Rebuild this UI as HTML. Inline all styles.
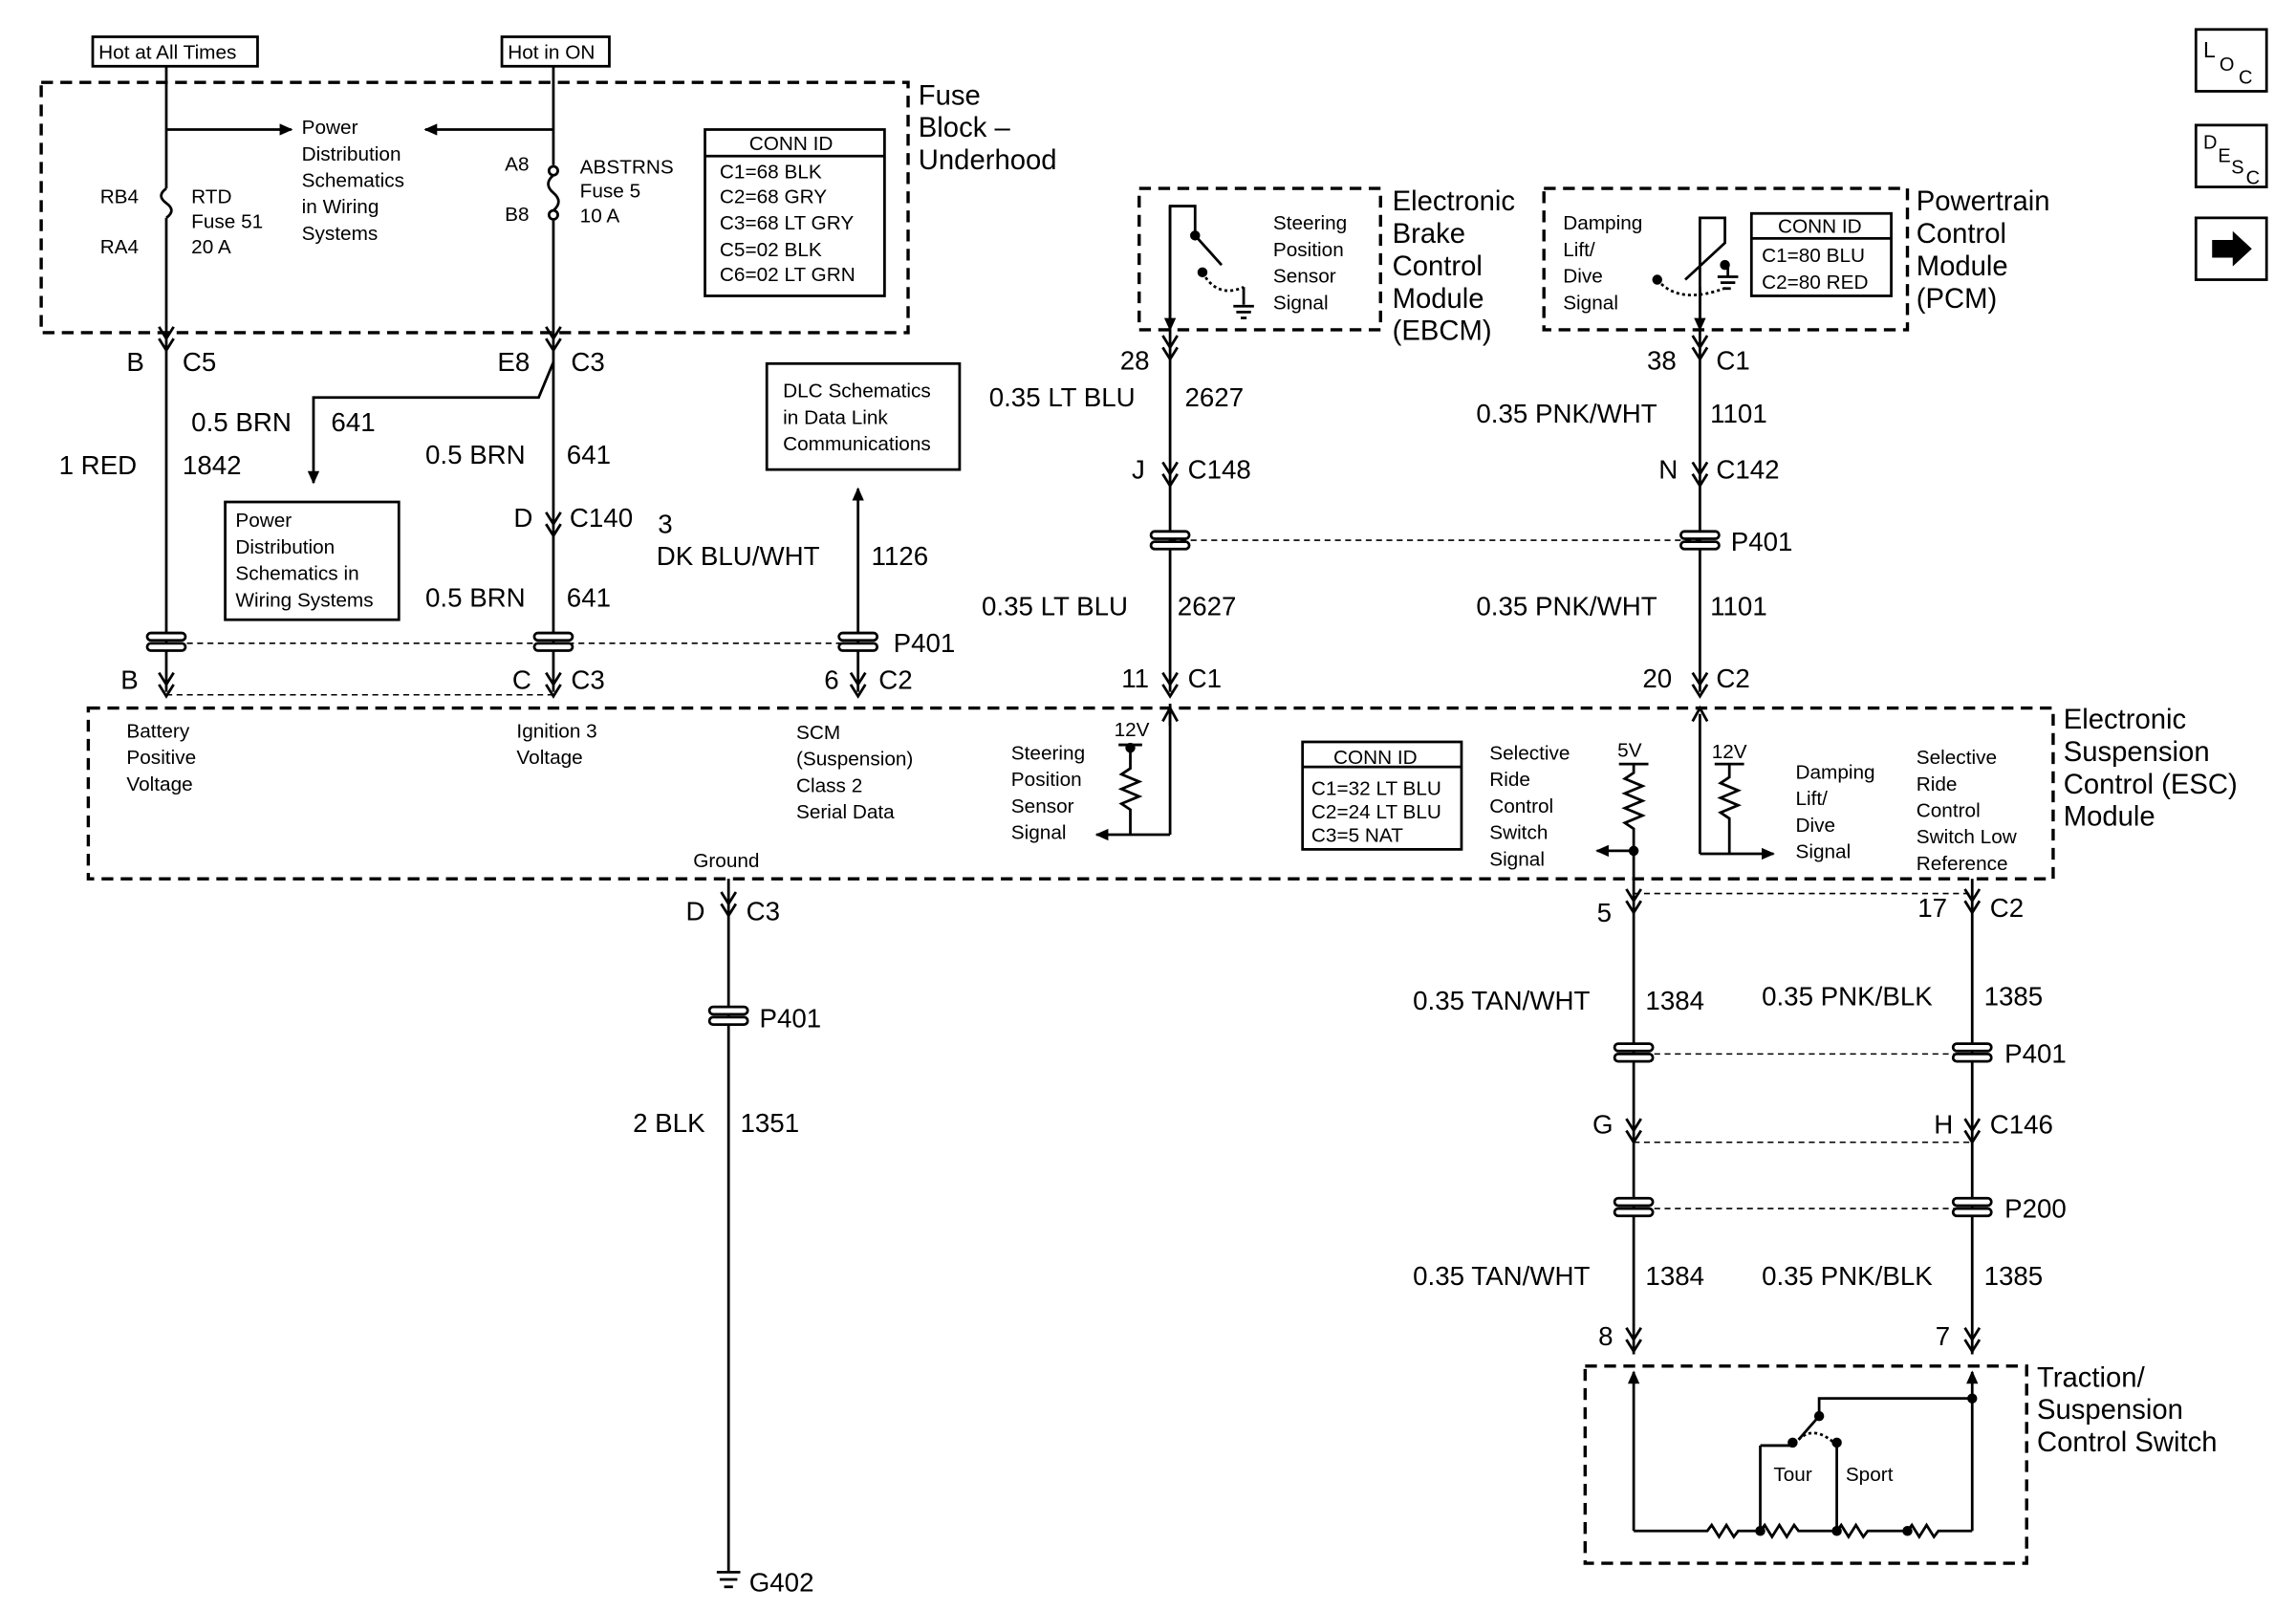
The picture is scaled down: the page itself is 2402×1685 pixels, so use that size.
<!DOCTYPE html>
<html><head><meta charset="utf-8"><style>
html,body{margin:0;padding:0;background:#fff;}
svg{display:block;}
text{font-family:"Liberation Sans",Arial,sans-serif;fill:#000;}
.s{font-size:13.5px;}
.m{font-size:18px;}
.l{font-size:19px;}
</style></head><body>
<svg width="2402" height="1685" viewBox="0 0 1560 1094.4" preserveAspectRatio="none" xmlns="http://www.w3.org/2000/svg">
<defs>
<marker id="ah" markerWidth="10" markerHeight="10" refX="8" refY="4" orient="auto" markerUnits="userSpaceOnUse"><path d="M0,0 L9,4 L0,8 z" fill="#000"/></marker>
<g id="spl"><rect x="-13" y="-6" width="26" height="5" rx="2.5" fill="#fff" stroke="#000" stroke-width="1.8"/><rect x="-13" y="1" width="26" height="5" rx="2.5" fill="#fff" stroke="#000" stroke-width="1.8"/></g>
<path id="cd" d="M-5,-8 L0,0 L5,-8 M-5,0 L0,8 L5,0" fill="none" stroke="#000" stroke-width="1.8"/>
</defs>
<g stroke="#000" stroke-width="1.8" fill="none">
<!-- top boxes -->
<rect x="63" y="25" width="112" height="20"/>
<rect x="341" y="25" width="73" height="20"/>
<rect x="28" y="56" width="589" height="170" stroke-dasharray="8,5" stroke-width="2.2"/>
<rect x="479" y="88" width="122" height="113"/>
<line x1="479" y1="106" x2="601" y2="106"/>
<!-- fuse wires -->
<line x1="113" y1="45" x2="113" y2="128"/>
<path d="M113,128 q-7,5 0,10 q7,5 0,10"/>
<line x1="113" y1="148" x2="113" y2="226"/>
<line x1="113" y1="88" x2="198" y2="88" marker-end="url(#ah)"/>
<line x1="376" y1="45" x2="376" y2="112"/>
<circle cx="376" cy="116" r="3"/>
<path d="M376,119 q-7,6 0,12 q7,6 0,12"/>
<circle cx="376" cy="146" r="3"/>
<line x1="376" y1="149" x2="376" y2="226"/>
<line x1="376" y1="88" x2="289" y2="88" marker-end="url(#ah)"/>
<!-- lower left wires -->
<line x1="113" y1="226" x2="113" y2="470"/>
<line x1="376" y1="226" x2="376" y2="470"/>
<path d="M376,246 L366,270 L213,270 L213,328" marker-end="url(#ah)"/>
<rect x="153" y="341" width="118" height="80"/>
<rect x="521" y="247" width="131" height="72"/>
<line x1="583" y1="470" x2="583" y2="332" marker-end="url(#ah)"/>
<line x1="113" y1="437" x2="583" y2="437" stroke-dasharray="4,3" stroke-width="1"/>
<line x1="113" y1="472" x2="376" y2="472" stroke-dasharray="4,3" stroke-width="1"/>
<!-- ESC -->
<rect x="60" y="481" width="1335" height="116" stroke-dasharray="8,5" stroke-width="2.2"/>
<!-- EBCM, PCM -->
<rect x="774" y="128" width="164" height="96" stroke-dasharray="8,5" stroke-width="2.2"/>
<rect x="1049" y="128" width="247" height="96" stroke-dasharray="8,5" stroke-width="2.2"/>
<rect x="1190" y="145" width="95" height="56"/>
<line x1="1190" y1="162" x2="1285" y2="162"/>
<path d="M795,222 L795,140 L812,140 L812,160 L830,180"/>
<circle cx="812" cy="160" r="2.5" fill="#000"/>
<circle cx="817" cy="185" r="2.5" fill="#000"/>
<path d="M817,185 q10,18 28,10" stroke-dasharray="2,2"/>
<line x1="845" y1="195" x2="845" y2="207"/><line x1="838" y1="208" x2="852" y2="208"/><line x1="840" y1="212" x2="850" y2="212"/><line x1="843" y1="216" x2="847" y2="216"/>
<line x1="795" y1="140" x2="795" y2="224" marker-end="url(#ah)"/>
<path d="M1155,222 L1155,195 M1155,195 L1155,148 L1172,148 L1172,165 L1145,190" />
<circle cx="1172" cy="180" r="2.5" fill="#000"/>
<circle cx="1126" cy="190" r="2.5" fill="#000"/>
<path d="M1126,190 q15,18 48,5" stroke-dasharray="2,2"/>
<line x1="1174" y1="180" x2="1174" y2="188"/><line x1="1167" y1="188" x2="1181" y2="188"/><line x1="1169" y1="192" x2="1179" y2="192"/><line x1="1172" y1="196" x2="1176" y2="196"/>
<line x1="1155" y1="195" x2="1155" y2="224" marker-end="url(#ah)"/>
<!-- vertical wires mid -->
<line x1="795" y1="224" x2="795" y2="470"/>
<line x1="1155" y1="224" x2="1155" y2="470"/>
<line x1="795" y1="367" x2="1155" y2="367" stroke-dasharray="4,3" stroke-width="1"/>
<!-- inside ESC left-mid -->
<rect x="885" y="504" width="108" height="73"/>
<line x1="885" y1="521" x2="993" y2="521"/>
<line x1="795" y1="478" x2="795" y2="567"/>
<line x1="795" y1="567" x2="745" y2="567" marker-end="url(#ah)"/>
<line x1="760" y1="506" x2="776" y2="506"/>
<circle cx="768" cy="508" r="2.5" fill="#000"/>
<path d="M768,508 L768,522 l-6,4 l12,5 l-12,5 l12,5 l-12,5 l6,4 L768,567"/>
<line x1="795" y1="480" x2="795" y2="493"/>
<path d="M790,490 L795,481 L800,490"/>
<line x1="1100" y1="519" x2="1120" y2="519"/>
<path d="M1110,519 L1110,525 l-6,4 l12,5 l-12,5 l12,5 l-12,5 l12,5 l-12,5 l6,4 L1110,605"/>
<line x1="1110" y1="578" x2="1085" y2="578" marker-end="url(#ah)"/>
<circle cx="1110" cy="578" r="2.5" fill="#000"/>
<line x1="1165" y1="519" x2="1185" y2="519"/>
<path d="M1175,519 L1175,528 l-6,4 l12,5 l-12,5 l12,5 l-12,5 l6,4 L1175,580"/>
<line x1="1155" y1="485" x2="1155" y2="580"/>
<line x1="1155" y1="580" x2="1205" y2="580" marker-end="url(#ah)"/>
<path d="M1150,490 L1155,481 L1160,490"/>
<!-- ground wire -->
<line x1="495" y1="597" x2="495" y2="1068"/>
<line x1="487" y1="1068" x2="503" y2="1068"/><line x1="489" y1="1073" x2="501" y2="1073"/><line x1="492" y1="1078" x2="498" y2="1078"/>
<!-- right lower wires -->
<line x1="1110" y1="605" x2="1110" y2="920"/>
<line x1="1340" y1="597" x2="1340" y2="920"/>
<line x1="1110" y1="607" x2="1340" y2="607" stroke-dasharray="4,3" stroke-width="1"/>
<line x1="1110" y1="716" x2="1340" y2="716" stroke-dasharray="4,3" stroke-width="1"/>
<line x1="1110" y1="776" x2="1340" y2="776" stroke-dasharray="4,3" stroke-width="1"/>
<line x1="1110" y1="821" x2="1340" y2="821" stroke-dasharray="4,3" stroke-width="1"/>
<!-- switch -->
<rect x="1077" y="928" width="300" height="134" stroke-dasharray="8,5" stroke-width="2.2"/>
<line x1="1110" y1="1040" x2="1110" y2="932" marker-end="url(#ah)"/>
<line x1="1340" y1="1040" x2="1340" y2="932" marker-end="url(#ah)"/>
<path d="M1110,1040 L1160,1040 l3,-4 l5,8 l5,-8 l5,8 l3,-4 L1196,1040 l3,-4 l5,8 l5,-8 l5,8 l5,-8 l3,4 L1248,1040 l3,-4 l5,8 l5,-8 l5,8 l3,-4 L1296,1040 l3,-4 l5,8 l5,-8 l5,8 l3,-4 L1340,1040"/>
<circle cx="1196" cy="1040" r="2.5" fill="#000"/><circle cx="1248" cy="1040" r="2.5" fill="#000"/><circle cx="1296" cy="1040" r="2.5" fill="#000"/>
<path d="M1340,950 L1236,950 L1236,962 L1222,978"/>
<circle cx="1236" cy="962" r="2.5" fill="#000"/>
<circle cx="1218" cy="980" r="2.5" fill="#000"/><circle cx="1248" cy="980" r="2.5" fill="#000"/>
<path d="M1222,978 q10,-10 24,2" stroke-dasharray="2,2"/>
<line x1="1196" y1="982" x2="1196" y2="1040"/><line x1="1196" y1="982" x2="1218" y2="982"/>
<line x1="1248" y1="983" x2="1248" y2="1040"/>
<circle cx="1340" cy="950" r="2.5" fill="#000"/>
<!-- icons -->
<rect x="1492" y="20" width="48" height="42"/>
<rect x="1492" y="85" width="48" height="42"/>
<rect x="1492" y="148" width="48" height="42"/>
</g>
<path d="M1503,163 L1517,163 L1517,157 L1530,169 L1517,181 L1517,175 L1503,175 z" fill="#000"/>
<!-- connectors -->
<g>
<use href="#cd" x="113" y="230"/><use href="#cd" x="376" y="230"/>
<use href="#cd" x="376" y="356"/>
<use href="#cd" x="113" y="465"/><use href="#cd" x="376" y="465"/><use href="#cd" x="583" y="465"/>
<use href="#cd" x="795" y="236"/><use href="#cd" x="795" y="322"/><use href="#cd" x="795" y="465"/>
<use href="#cd" x="1155" y="236"/><use href="#cd" x="1155" y="322"/><use href="#cd" x="1155" y="465"/>
<use href="#cd" x="495" y="614"/>
<use href="#cd" x="1110" y="612"/><use href="#cd" x="1340" y="612"/>
<use href="#cd" x="1110" y="768"/><use href="#cd" x="1340" y="768"/>
<use href="#cd" x="1110" y="910"/><use href="#cd" x="1340" y="910"/>
<use href="#spl" x="113" y="436"/><use href="#spl" x="376" y="436"/><use href="#spl" x="583" y="436"/>
<use href="#spl" x="795" y="367"/><use href="#spl" x="1155" y="367"/>
<use href="#spl" x="495" y="690"/>
<use href="#spl" x="1110" y="715"/><use href="#spl" x="1340" y="715"/>
<use href="#spl" x="1110" y="820"/><use href="#spl" x="1340" y="820"/>
</g>
<!-- text -->
<text class="s" x="67" y="40">Hot at All Times</text>
<text class="s" x="345" y="40">Hot in ON</text>
<text class="s" x="205" y="91">Power</text><text class="s" x="205" y="109">Distribution</text><text class="s" x="205" y="127">Schematics</text><text class="s" x="205" y="145">in Wiring</text><text class="s" x="205" y="163">Systems</text>
<text class="s" x="68" y="138">RB4</text><text class="s" x="68" y="172">RA4</text>
<text class="s" x="130" y="138">RTD</text><text class="s" x="130" y="155">Fuse 51</text><text class="s" x="130" y="172">20 A</text>
<text class="s" x="343" y="116">A8</text><text class="s" x="343" y="150">B8</text>
<text class="s" x="394" y="118">ABSTRNS</text><text class="s" x="394" y="134">Fuse 5</text><text class="s" x="394" y="151">10 A</text>
<text class="s" x="509" y="102">CONN ID</text>
<text class="s" x="489" y="121">C1=68 BLK</text><text class="s" x="489" y="138">C2=68 GRY</text><text class="s" x="489" y="156">C3=68 LT GRY</text><text class="s" x="489" y="174">C5=02 BLK</text><text class="s" x="489" y="191">C6=02 LT GRN</text>
<text class="l" x="624" y="71">Fuse</text><text class="l" x="624" y="93">Block –</text><text class="l" x="624" y="115">Underhood</text>
<text class="m" x="86" y="252">B</text><text class="m" x="124" y="252">C5</text>
<text class="m" x="338" y="252">E8</text><text class="m" x="388" y="252">C3</text>
<text class="m" x="130" y="293">0.5 BRN</text><text class="m" x="225" y="293">641</text>
<text class="m" x="40" y="322">1 RED</text><text class="m" x="124" y="322">1842</text>
<text class="m" x="289" y="315">0.5 BRN</text><text class="m" x="385" y="315">641</text>
<text class="s" x="160" y="358">Power</text><text class="s" x="160" y="376">Distribution</text><text class="s" x="160" y="394">Schematics in</text><text class="s" x="160" y="412">Wiring Systems</text>
<text class="s" x="532" y="270">DLC Schematics</text><text class="s" x="532" y="288">in Data Link</text><text class="s" x="532" y="306">Communications</text>
<text class="m" x="349" y="358">D</text><text class="m" x="387" y="358">C140</text><text class="m" x="447" y="362">3</text>
<text class="m" x="446" y="384">DK BLU/WHT</text><text class="m" x="592" y="384">1126</text>
<text class="m" x="289" y="412">0.5 BRN</text><text class="m" x="385" y="412">641</text>
<text class="m" x="607" y="443">P401</text>
<text class="m" x="82" y="468">B</text><text class="m" x="348" y="468">C</text><text class="m" x="388" y="468">C3</text>
<text class="m" x="560" y="468">6</text><text class="m" x="597" y="468">C2</text>
<text class="s" x="86" y="501">Battery</text><text class="s" x="86" y="519">Positive</text><text class="s" x="86" y="537">Voltage</text>
<text class="s" x="351" y="501">Ignition 3</text><text class="s" x="351" y="519">Voltage</text>
<text class="s" x="541" y="502">SCM</text><text class="s" x="541" y="520">(Suspension)</text><text class="s" x="541" y="538">Class 2</text><text class="s" x="541" y="556">Serial Data</text>
<text class="s" x="471" y="589">Ground</text>
<text class="s" x="865" y="156">Steering</text><text class="s" x="865" y="174">Position</text><text class="s" x="865" y="192">Sensor</text><text class="s" x="865" y="210">Signal</text>
<text class="l" x="946" y="143">Electronic</text><text class="l" x="946" y="165">Brake</text><text class="l" x="946" y="187">Control</text><text class="l" x="946" y="209">Module</text><text class="l" x="946" y="231">(EBCM)</text>
<text class="s" x="1062" y="156">Damping</text><text class="s" x="1062" y="174">Lift/</text><text class="s" x="1062" y="192">Dive</text><text class="s" x="1062" y="210">Signal</text>
<text class="s" x="1208" y="158">CONN ID</text><text class="s" x="1197" y="178">C1=80 BLU</text><text class="s" x="1197" y="196">C2=80 RED</text>
<text class="l" x="1302" y="143">Powertrain</text><text class="l" x="1302" y="165">Control</text><text class="l" x="1302" y="187">Module</text><text class="l" x="1302" y="209">(PCM)</text>
<text class="m" x="761" y="251">28</text><text class="m" x="672" y="276">0.35 LT BLU</text><text class="m" x="805" y="276">2627</text>
<text class="m" x="769" y="325">J</text><text class="m" x="807" y="325">C148</text>
<text class="m" x="667" y="418">0.35 LT BLU</text><text class="m" x="800" y="418">2627</text>
<text class="m" x="762" y="467">11</text><text class="m" x="807" y="467">C1</text>
<text class="m" x="1119" y="251">38</text><text class="m" x="1166" y="251">C1</text>
<text class="m" x="1003" y="287">0.35 PNK/WHT</text><text class="m" x="1162" y="287">1101</text>
<text class="m" x="1127" y="325">N</text><text class="m" x="1166" y="325">C142</text>
<text class="m" x="1176" y="374">P401</text>
<text class="m" x="1003" y="418">0.35 PNK/WHT</text><text class="m" x="1162" y="418">1101</text>
<text class="m" x="1116" y="467">20</text><text class="m" x="1166" y="467">C2</text>
<text class="s" x="687" y="516">Steering</text><text class="s" x="687" y="534">Position</text><text class="s" x="687" y="552">Sensor</text><text class="s" x="687" y="570">Signal</text>
<text class="s" x="757" y="500">12V</text>
<text class="s" x="906" y="519">CONN ID</text>
<text class="s" x="891" y="540">C1=32 LT BLU</text><text class="s" x="891" y="556">C2=24 LT BLU</text><text class="s" x="891" y="572">C3=5 NAT</text>
<text class="s" x="1012" y="516">Selective</text><text class="s" x="1012" y="534">Ride</text><text class="s" x="1012" y="552">Control</text><text class="s" x="1012" y="570">Switch</text><text class="s" x="1012" y="588">Signal</text>
<text class="s" x="1099" y="514">5V</text><text class="s" x="1163" y="515">12V</text>
<text class="s" x="1220" y="529">Damping</text><text class="s" x="1220" y="547">Lift/</text><text class="s" x="1220" y="565">Dive</text><text class="s" x="1220" y="583">Signal</text>
<text class="s" x="1302" y="519">Selective</text><text class="s" x="1302" y="537">Ride</text><text class="s" x="1302" y="555">Control</text><text class="s" x="1302" y="573">Switch Low</text><text class="s" x="1302" y="591">Reference</text>
<text class="l" x="1402" y="495">Electronic</text><text class="l" x="1402" y="517">Suspension</text><text class="l" x="1402" y="539">Control (ESC)</text><text class="l" x="1402" y="561">Module</text>
<text class="m" x="466" y="625">D</text><text class="m" x="507" y="625">C3</text>
<text class="m" x="516" y="698">P401</text>
<text class="m" x="430" y="769">2 BLK</text><text class="m" x="503" y="769">1351</text>
<text class="m" x="509" y="1081">G402</text>
<text class="m" x="1085" y="626">5</text><text class="m" x="1303" y="623">17</text><text class="m" x="1352" y="623">C2</text>
<text class="m" x="960" y="686">0.35 TAN/WHT</text><text class="m" x="1118" y="686">1384</text>
<text class="m" x="1197" y="683">0.35 PNK/BLK</text><text class="m" x="1348" y="683">1385</text>
<text class="m" x="1362" y="722">P401</text>
<text class="m" x="1082" y="770">G</text><text class="m" x="1314" y="770">H</text><text class="m" x="1352" y="770">C146</text>
<text class="m" x="1362" y="827">P200</text>
<text class="m" x="960" y="873">0.35 TAN/WHT</text><text class="m" x="1118" y="873">1384</text>
<text class="m" x="1197" y="873">0.35 PNK/BLK</text><text class="m" x="1348" y="873">1385</text>
<text class="m" x="1086" y="914">8</text><text class="m" x="1315" y="914">7</text>
<text class="s" x="1205" y="1006">Tour</text><text class="s" x="1254" y="1006">Sport</text>
<text class="l" x="1384" y="942">Traction/</text><text class="l" x="1384" y="964">Suspension</text><text class="l" x="1384" y="986">Control Switch</text>
<text x="1497" y="39" style="font-size:15px">L</text><text x="1508" y="48" style="font-size:13px">O</text><text x="1521" y="57" style="font-size:13px">C</text>
<text x="1497" y="101" style="font-size:13px">D</text><text x="1507" y="110" style="font-size:13px">E</text><text x="1516" y="118" style="font-size:13px">S</text><text x="1526" y="125" style="font-size:13px">C</text>
</svg>
</body></html>
